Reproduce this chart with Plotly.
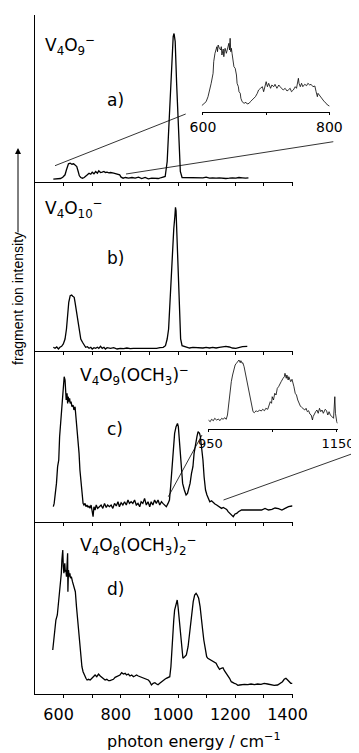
import plotly.graph_objects as go

# ---------------- data (photon energy in cm^-1, intensity in arbitrary units) -------------
a_x = [564, 574, 582, 589, 597, 605, 610, 614, 617, 623, 629, 635, 640, 646, 651, 655, 660,
       666, 672, 677, 683, 689, 695, 700, 706, 712, 718, 723, 729, 735, 741, 746, 752, 758,
       764, 775, 787, 796, 801, 808, 816, 827, 839, 850, 862, 873, 885, 896, 908, 919, 931,
       942, 950, 955, 962, 970, 977, 983, 986, 990, 995, 1001, 1008, 1014, 1017, 1029, 1040,
       1052, 1063, 1075, 1087, 1098, 1110, 1121, 1133, 1144, 1156, 1167, 1179, 1190, 1202,
       1213, 1225, 1236, 1246]
a_y = [2.3, 2.7, 3.3, 3.0, 4.3, 6.7, 11.7, 15.7, 17.7, 18.3, 17.3, 17.7, 16.7, 15.0, 10.0, 5.7,
       4.0, 3.3, 4.0, 5.7, 6.7, 8.3, 7.3, 9.3, 7.7, 10.0, 8.3, 10.7, 9.0, 9.3, 10.0, 9.0, 9.3,
       8.7, 9.0, 8.3, 7.7, 6.7, 4.3, 3.3, 4.0, 3.3, 4.0, 3.3, 4.3, 3.0, 4.0, 2.7, 3.3, 3.3, 3.0,
       4.0, 4.3, 5.0, 20, 65, 115, 145, 148, 140, 98, 48, 10, 4.0, 4.0, 3.7, 4.0, 3.7, 4.0, 3.3,
       3.7, 4.3, 3.3, 3.7, 3.3, 3.7, 3.3, 3.0, 3.3, 3.7, 3.3, 4.0, 3.7, 3.3, 3.7]

a_in_x = [598, 602, 605, 608, 610, 613, 616, 617, 619, 621, 622, 623, 624, 626, 628, 629, 630,
          632, 633, 634, 635, 637, 638, 640, 641, 642, 643, 644, 645, 646, 648, 649, 651, 653,
          654, 656, 657, 659, 660, 662, 665, 668, 670, 673, 675, 678, 681, 683, 686, 688, 691,
          694, 696, 699, 700, 702, 704, 707, 709, 712, 714, 717, 720, 722, 725, 727, 730, 733,
          735, 738, 740, 743, 746, 748, 751, 752, 754, 756, 758, 761, 764, 766, 769, 771, 774,
          777, 779, 781, 782, 784, 787, 790, 792, 795, 797, 800]
a_in_y = [6.6, 9.0, 10.6, 15.6, 20.6, 29.0, 39.0, 50.6, 59.0, 62.3, 65.6, 60.6, 67.3, 64.0, 62.3,
          65.6, 57.3, 63.3, 55.6, 60.6, 64.0, 59.0, 61.3, 64.0, 69.0, 62.3, 74.0, 60.6, 64.0, 59.0,
          50.6, 45.6, 44.0, 37.3, 29.0, 25.6, 20.6, 19.0, 14.0, 10.6, 9.0, 10.0, 8.3, 9.0, 10.6,
          12.3, 14.0, 15.6, 19.0, 22.3, 24.0, 25.6, 20.6, 27.3, 30.6, 25.6, 29.0, 24.0, 27.3, 25.6,
          28.0, 24.0, 27.3, 25.6, 24.0, 22.3, 24.0, 21.3, 22.3, 24.0, 20.6, 22.3, 25.6, 24.0, 34.0,
          29.0, 25.6, 29.0, 25.6, 28.0, 26.6, 29.0, 27.3, 28.0, 25.6, 26.3, 20.6, 15.6, 19.0, 17.3,
          14.0, 12.3, 10.6, 9.0, 7.3, 6.3]

b_x = [564, 570, 576, 582, 587, 593, 599, 605, 610, 614, 618, 623, 628, 632, 637, 640, 645, 650,
       654, 660, 666, 672, 677, 683, 689, 695, 700, 706, 712, 718, 723, 729, 735, 741, 746, 752,
       764, 775, 787, 798, 810, 821, 833, 844, 856, 867, 879, 891, 902, 914, 925, 937, 948, 956,
       962, 967, 971, 976, 980, 985, 989, 991, 993, 995, 999, 1002, 1006, 1009, 1014, 1020, 1029,
       1040, 1052, 1063, 1075, 1087, 1098, 1110, 1121, 1133, 1144, 1156, 1167, 1179, 1190, 1202,
       1213, 1225, 1242]
b_y = [3.7, 2.7, 4.0, 2.0, 3.7, 4.7, 7.0, 12.0, 22.0, 38.7, 48.7, 55.3, 56.0, 54.7, 53.7, 48.7,
       40.3, 32.0, 22.0, 12.0, 8.7, 5.3, 3.7, 4.3, 2.7, 3.7, 2.0, 3.3, 2.7, 3.7, 2.7, 4.7, 2.7,
       3.7, 2.0, 3.3, 2.7, 3.3, 2.0, 2.7, 2.3, 3.0, 2.3, 2.7, 2.7, 3.0, 2.3, 3.0, 2.7, 3.0, 2.7,
       3.3, 3.7, 5.3, 12.0, 22.0, 45.3, 72.0, 98.7, 122.0, 135.3, 143.7, 140.3, 122.0, 88.7, 55.3,
       28.7, 12.0, 5.3, 4.7, 3.7, 3.0, 3.7, 3.3, 2.7, 3.0, 3.7, 3.0, 3.7, 3.0, 3.7, 4.3, 4.7, 4.0,
       3.0, 2.7, 3.7, 4.3, 4.7]

c_x = [564, 567, 571, 575, 579, 583, 586, 591, 595, 599, 602, 605, 607, 609, 612, 614, 616, 619,
       621, 623, 626, 629, 633, 636, 640, 643, 647, 650, 654, 657, 661, 664, 668, 671, 675, 678,
       682, 685, 689, 692, 696, 699, 703, 706, 710, 714, 719, 725, 731, 737, 743, 749, 754, 760,
       766, 772, 778, 784, 790, 795, 801, 807, 813, 819, 825, 830, 836, 842, 848, 854, 860, 866,
       871, 877, 883, 889, 895, 901, 906, 912, 918, 924, 930, 936, 942, 947, 953, 959, 965, 970,
       974, 979, 984, 988, 993, 998, 1001, 1005, 1008, 1012, 1016, 1022, 1028, 1033, 1037, 1042,
       1047, 1052, 1056, 1061, 1066, 1070, 1075, 1078, 1082, 1087, 1091, 1096, 1101, 1105, 1111,
       1117, 1123, 1129, 1135, 1140, 1146, 1152, 1158, 1164, 1170, 1175, 1181, 1187, 1193, 1199,
       1205, 1211, 1216, 1222, 1234, 1246, 1257, 1269, 1281, 1292, 1304, 1316, 1328, 1339, 1351,
       1363, 1374, 1386, 1398, 1400]
c_y = [15.0, 18.3, 28.3, 38.3, 55.0, 61.7, 85.0, 101.7, 118.3, 131.7, 145.0, 141.7, 133.3, 121.7,
       128.3, 118.3, 125.0, 120.0, 123.3, 118.3, 120.0, 115.0, 116.7, 111.7, 115.0, 105.0, 95.0,
       85.0, 68.3, 51.7, 38.3, 25.0, 18.3, 16.7, 18.3, 15.0, 16.7, 14.3, 15.7, 13.3, 16.7, 11.7,
       5.0, 15.0, 11.7, 16.7, 13.3, 15.0, 16.7, 13.3, 18.3, 14.3, 16.7, 15.0, 16.7, 13.3, 18.3,
       15.7, 20.0, 15.0, 19.0, 16.7, 20.0, 16.7, 21.7, 18.3, 20.0, 18.3, 21.7, 16.7, 18.3, 15.0,
       20.0, 18.3, 23.3, 16.7, 20.0, 15.0, 20.0, 16.7, 21.7, 18.3, 21.7, 16.7, 20.0, 18.3, 16.7,
       15.0, 18.3, 21.7, 35.0, 55.0, 75.0, 88.3, 95.0, 98.3, 95.0, 78.3, 61.7, 48.3, 38.3, 31.7,
       26.7, 28.3, 33.3, 38.3, 48.3, 55.0, 68.3, 78.3, 85.0, 90.0, 88.3, 85.0, 75.0, 61.7, 45.0,
       31.7, 26.7, 23.3, 20.0, 21.0, 19.0, 17.7, 16.7, 15.7, 15.0, 13.3, 14.3, 13.3, 12.3, 10.0,
       8.3, 6.7, 5.0, 7.7, 8.3, 10.0, 11.0, 11.7, 11.7, 11.7, 12.3, 11.7, 12.3, 11.7, 13.3, 11.7,
       12.3, 13.7, 13.0, 11.7, 13.3, 15.0, 15.7, 15.7]

c_in_x = [950, 953, 955, 958, 960, 963, 966, 968, 971, 973, 976, 978, 980, 981, 983, 984, 986,
          988, 990, 992, 994, 996, 998, 1000, 1001, 1003, 1004, 1006, 1007, 1009, 1011, 1013,
          1016, 1018, 1020, 1022, 1025, 1027, 1030, 1033, 1035, 1038, 1040, 1043, 1045, 1047,
          1049, 1050, 1052, 1054, 1056, 1058, 1060, 1062, 1064, 1067, 1069, 1070, 1072, 1073,
          1075, 1076, 1078, 1079, 1081, 1083, 1084, 1086, 1088, 1090, 1092, 1094, 1096, 1099,
          1101, 1103, 1105, 1107, 1109, 1111, 1113, 1114, 1116, 1118, 1120, 1122, 1124, 1126,
          1128, 1130, 1133, 1135, 1137, 1139, 1141, 1143, 1145, 1146, 1148, 1149, 1151, 1152]
c_in_y = [9.0, 7.3, 9.7, 8.3, 10.7, 9.0, 10.0, 8.3, 10.7, 9.7, 11.3, 9.7, 14.0, 20.7, 29.0, 39.0,
          47.3, 54.0, 59.0, 64.0, 65.7, 67.3, 69.0, 66.3, 68.3, 65.7, 66.3, 62.3, 59.0, 52.3, 45.7,
          37.3, 29.0, 20.7, 17.3, 16.3, 18.3, 17.0, 19.0, 18.0, 19.7, 18.3, 20.7, 19.7, 24.0, 27.3,
          25.7, 32.3, 29.0, 35.7, 34.0, 40.7, 42.3, 45.7, 47.3, 50.7, 52.3, 55.7, 50.7, 54.0, 49.0,
          52.3, 49.0, 47.3, 49.7, 45.7, 42.3, 35.7, 34.0, 29.0, 25.7, 23.0, 21.7, 19.7, 19.0, 20.7,
          17.3, 18.3, 15.0, 14.0, 9.0, 12.3, 15.7, 17.3, 19.0, 15.7, 20.7, 17.3, 19.0, 15.7, 19.7,
          18.3, 14.0, 17.3, 14.0, 12.3, 10.7, 10.7, 32.3, 15.7, 7.3, 5.7]

d_x = [562, 565, 569, 573, 578, 583, 587, 592, 594, 597, 599, 601, 604, 606, 608, 610, 613, 614,
       615, 617, 620, 622, 624, 627, 631, 636, 641, 645, 650, 655, 659, 664, 668, 673, 678, 682,
       687, 693, 699, 704, 710, 716, 722, 728, 733, 739, 745, 751, 757, 762, 768, 774, 780, 786,
       791, 797, 803, 809, 815, 820, 826, 832, 838, 844, 849, 855, 861, 867, 873, 878, 884, 890,
       896, 901, 907, 913, 919, 925, 930, 936, 942, 948, 954, 959, 965, 971, 975, 978, 981, 985,
       988, 993, 997, 1000, 1004, 1007, 1012, 1017, 1023, 1029, 1035, 1039, 1044, 1049, 1053,
       1058, 1063, 1067, 1072, 1077, 1081, 1086, 1090, 1095, 1100, 1104, 1110, 1116, 1122, 1128,
       1133, 1139, 1145, 1151, 1157, 1162, 1168, 1174, 1180, 1186, 1191, 1197, 1203, 1209, 1215,
       1220, 1232, 1244, 1255, 1267, 1278, 1290, 1301, 1313, 1325, 1336, 1348, 1359, 1365, 1371,
       1377, 1383, 1388, 1394, 1400]
d_y = [44.0, 52.3, 64.0, 74.0, 79.0, 94.0, 104.0, 120.7, 134.0, 144.0, 127.3, 120.7, 130.7, 122.3,
       124.0, 117.3, 134.0, 140.7, 102.3, 124.0, 117.3, 120.7, 115.7, 117.3, 112.3, 107.3, 102.3,
       87.3, 70.7, 54.0, 37.3, 27.3, 22.3, 18.0, 15.7, 14.0, 14.7, 14.0, 15.7, 17.3, 19.0, 17.3,
       20.0, 18.0, 16.7, 14.7, 14.0, 14.7, 13.3, 13.3, 14.0, 14.7, 16.7, 17.3, 18.0, 19.0, 21.3,
       20.0, 20.7, 19.0, 20.0, 18.0, 19.0, 17.3, 18.0, 19.0, 18.0, 17.3, 17.3, 16.7, 15.7, 14.7,
       14.0, 12.3, 9.0, 10.7, 11.3, 10.0, 9.3, 10.7, 12.3, 14.0, 14.7, 15.7, 16.7, 17.3, 27.3,
       44.0, 60.7, 74.0, 84.0, 89.0, 94.0, 87.3, 74.0, 60.7, 47.3, 35.7, 37.3, 39.0, 47.3, 57.3,
       70.7, 84.0, 92.3, 99.0, 100.7, 99.0, 95.7, 87.3, 74.0, 64.0, 54.0, 44.0, 37.3, 35.7, 34.7,
       34.0, 33.3, 32.3, 30.7, 27.3, 24.7, 25.7, 26.3, 23.3, 20.7, 19.0, 15.7, 12.3, 11.3, 10.7,
       10.0, 8.7, 9.0, 9.3, 9.7, 9.3, 10.0, 9.3, 10.0, 9.7, 10.7, 10.0, 9.0, 8.7, 9.0, 10.7, 12.3,
       14.7, 15.7, 14.0, 12.3, 10.7, 10.7]

main_ticks = [600, 700, 800, 900, 1000, 1100, 1200, 1300, 1400]
main_ticktext = ["600", "", "800", "", "1000", "", "1200", "", "1400"]
inset_a_ticks = [600, 700, 800]
inset_a_text = ["600", "", "800"]
inset_c_ticks = [950, 1050, 1150]
inset_c_text = ["950", "", "1150"]

labels = [
    "V<sub>4</sub>O<sub>9</sub><sup>−</sup>",
    "V<sub>4</sub>O<sub>10</sub><sup>−</sup>",
    "V<sub>4</sub>O<sub>9</sub>(OCH<sub>3</sub>)<sup>−</sup>",
    "V<sub>4</sub>O<sub>8</sub>(OCH<sub>3</sub>)<sub>2</sub><sup>−</sup>",
]
letters = ["a)", "b)", "c)", "d)"]

# ---------------- layout geometry (page pixels; the page body adds an 8px offset) ----------
OFF = 8
PAGE_W, PAGE_H = 359, 753
W, H = PAGE_W - OFF, PAGE_H - OFF
L_PX, R_PX, T_PX, B_PX = 35, 359, 15, 694      # plot-area box in page pixels
ML, MT = L_PX - OFF, T_PX - OFF
MR, MB = W - (R_PX - OFF), H - (B_PX - OFF)
PW = R_PX - L_PX
PH = B_PX - T_PX


def px_x(x):
    return (x - L_PX) / PW


def px_y(y):
    return (B_PX - y) / PH


xr_right = px_x(292.5)
bounds = [15, 181.5, 351, 521.7, 694]
FONT = "DejaVu Sans"

fig = go.Figure()
series = [(a_x, a_y), (b_x, b_y), (c_x, c_y), (d_x, d_y)]
for i, (xs, ys) in enumerate(series):
    fig.add_trace(go.Scatter(x=xs, y=ys, mode="lines", line=dict(color="black", width=1.3),
                             xaxis="x" if i == 0 else "x%d" % (i + 1),
                             yaxis="y" if i == 0 else "y%d" % (i + 1),
                             showlegend=False, hoverinfo="skip"))

fig.add_trace(go.Scatter(x=a_in_x, y=a_in_y, mode="lines", line=dict(color="black", width=0.8),
                         xaxis="x5", yaxis="y5", showlegend=False, hoverinfo="skip"))
fig.add_trace(go.Scatter(x=c_in_x, y=c_in_y, mode="lines", line=dict(color="black", width=0.8),
                         xaxis="x6", yaxis="y6", showlegend=False, hoverinfo="skip"))

layout = dict(width=W, height=H, margin=dict(l=ML, r=MR, t=MT, b=MB, autoexpand=False),
              paper_bgcolor="white", plot_bgcolor="white", showlegend=False,
              font=dict(family=FONT, color="black", size=16))

for i in range(4):
    top, bot = bounds[i], bounds[i + 1]
    xname = "xaxis" if i == 0 else "xaxis%d" % (i + 1)
    yname = "yaxis" if i == 0 else "yaxis%d" % (i + 1)
    ysuffix = "y" if i == 0 else "y%d" % (i + 1)
    layout[xname] = dict(domain=[0, xr_right], range=[500, 1400], anchor=ysuffix,
                         showline=True, linecolor="black", linewidth=1, mirror=False,
                         ticks="outside", ticklen=3, tickcolor="black", tickwidth=1,
                         tickvals=main_ticks, ticktext=main_ticktext,
                         showticklabels=(i == 3), showgrid=False, zeroline=False,
                         tickfont=dict(family=FONT, size=16), ticklabelshift=-5,
                         ticklabelstandoff=3, fixedrange=True, automargin=False)
    if i > 0:
        layout[xname]["matches"] = "x"
    layout[yname] = dict(domain=[px_y(bot), px_y(top)], range=[0, bot - top],
                         anchor="x" if i == 0 else "x%d" % (i + 1),
                         showline=True, linecolor="black", linewidth=1, ticks="",
                         showticklabels=False, showgrid=False, zeroline=False,
                         fixedrange=True, automargin=False)

layout["xaxis5"] = dict(domain=[px_x(201.7), px_x(330)], range=[598, 801], anchor="y5",
                        showline=True, linecolor="black", linewidth=0.8, ticks="outside",
                        ticklen=2, tickcolor="black", tickvals=inset_a_ticks, ticktext=inset_a_text,
                        showgrid=False, zeroline=False, tickfont=dict(family=FONT, size=14),
                        fixedrange=True, automargin=False)
layout["yaxis5"] = dict(domain=[px_y(112.3), px_y(32.3)], range=[0, 80], anchor="x5",
                        visible=False, fixedrange=True, automargin=False)
layout["xaxis6"] = dict(domain=[px_x(208.3), px_x(337.7)], range=[950, 1152.5], anchor="y6",
                        showline=True, linecolor="black", linewidth=0.8, ticks="outside",
                        ticklen=2, tickcolor="black", tickvals=inset_c_ticks, ticktext=inset_c_text,
                        showgrid=False, zeroline=False, tickfont=dict(family=FONT, size=13),
                        ticklabelshift=2, fixedrange=True, automargin=False)
layout["yaxis6"] = dict(domain=[px_y(429), px_y(357)], range=[0, 72], anchor="x6",
                        visible=False, fixedrange=True, automargin=False)

fig.update_layout(**layout)

# connector lines for the insets
connectors = [((55, 165.7), (185.7, 114)), ((126, 174), (333.3, 141.7)),
              ((168.3, 496.7), (202, 435)), ((223.5, 500), (358.5, 451.5))]
for (x0, y0), (x1, y1) in connectors:
    fig.add_shape(type="line", xref="paper", yref="paper", x0=px_x(x0), y0=px_y(y0),
                  x1=px_x(x1), y1=px_y(y1), line=dict(color="black", width=0.8))

# panel labels
label_pos = [(43, 46), (43, 208), (78, 375), (78, 545)]
letter_pos = [(115, 100), (115, 258), (115, 429), (115, 589)]
for txt, (lx, ly) in zip(labels, label_pos):
    fig.add_annotation(text=txt, xref="paper", yref="paper", x=px_x(lx), y=px_y(ly),
                       xanchor="left", yanchor="middle", showarrow=False,
                       font=dict(family=FONT, size=17))
for txt, (lx, ly) in zip(letters, letter_pos):
    fig.add_annotation(text=txt, xref="paper", yref="paper", x=px_x(lx), y=px_y(ly),
                       xanchor="center", yanchor="middle", showarrow=False,
                       font=dict(family=FONT, size=17))

# axis titles
fig.add_annotation(text="photon energy / cm<sup>−1</sup>", xref="paper", yref="paper",
                   x=px_x(193.5), y=px_y(740), xanchor="center", yanchor="middle",
                   showarrow=False, font=dict(family=FONT, size=16))
fig.add_annotation(text="fragment ion intensity", xref="paper", yref="paper",
                   x=px_x(18), y=px_y(299), xanchor="center", yanchor="middle",
                   textangle=-90, showarrow=False, font=dict(family="Liberation Sans", size=14))
fig.add_annotation(text="", xref="paper", yref="paper", x=px_x(18), y=px_y(148),
                   ax=0, ay=86, showarrow=True, arrowhead=2, arrowsize=1.2, arrowwidth=1,
                   arrowcolor="black")

fig.write_html("out.html")
